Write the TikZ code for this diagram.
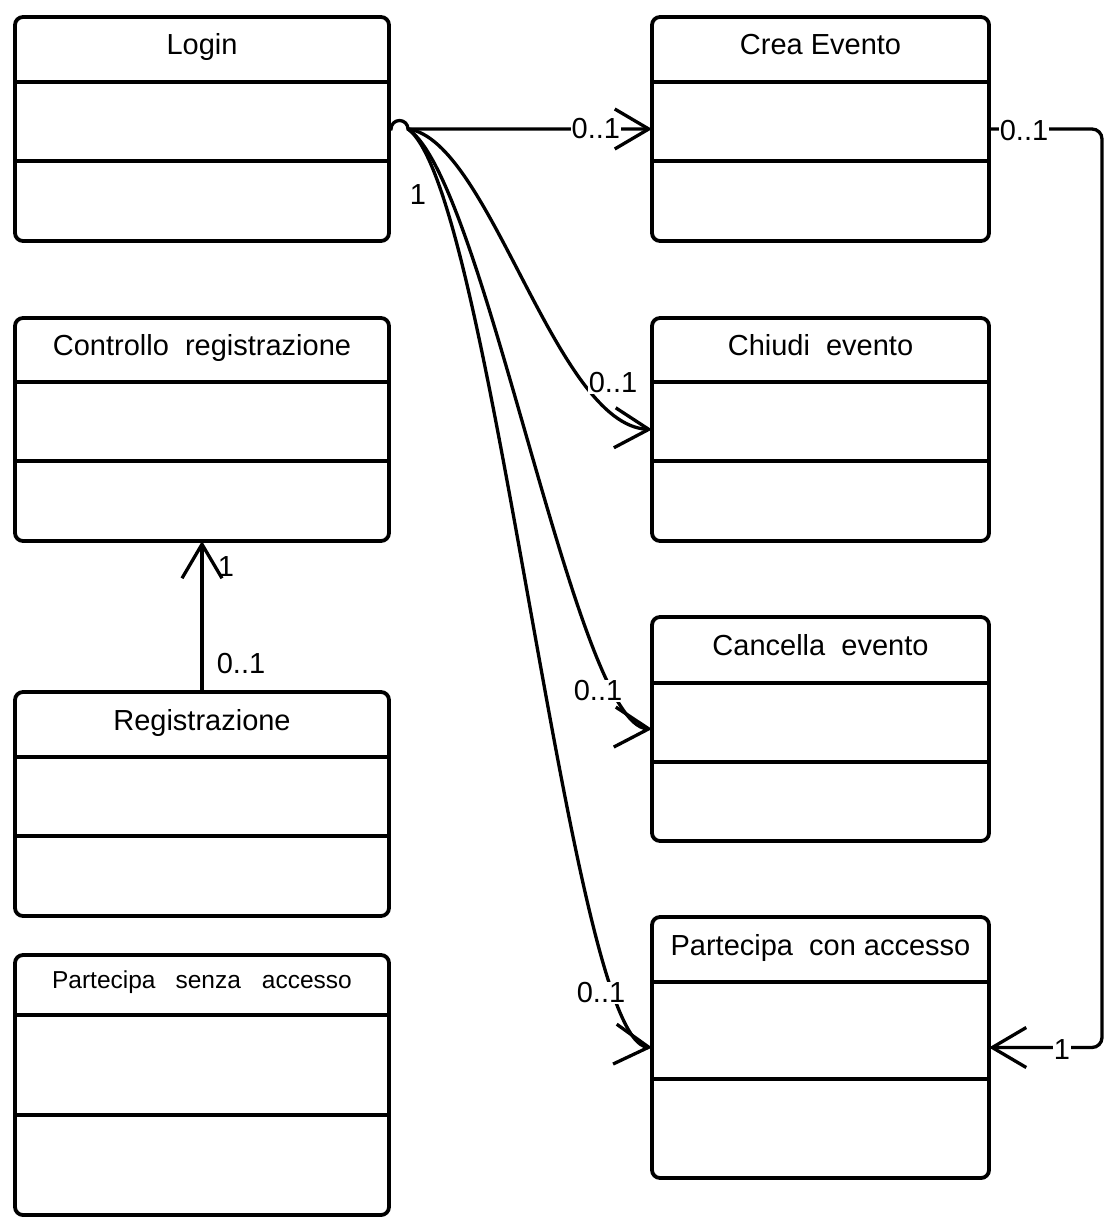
\documentclass[tikz,border=0pt]{standalone}
\usepackage{fontspec}
\setmainfont{Liberation Sans}
\usetikzlibrary{arrows.meta}
\tikzset{
  classbox/.style={draw, line width=3.8pt, rounded corners=8pt, inner sep=0pt,
    outer sep=0pt, anchor=north west},
  classname/.style={anchor=base, inner sep=0pt, font=\fontsize{29}{34}\selectfont},
  divider/.style={line width=3.8pt},
  assoc/.style={line width=3.3pt, -{Straight Barb[length=34pt,width=40pt]}},
  mult/.style={inner sep=1pt, font=\fontsize{29}{34}\selectfont},
}
% two compartment lines of a class box
\newcommand{\classlines}[3]{%
  \draw[divider] ([yshift=-#2pt]#1.north west) -- ([yshift=-#2pt]#1.north east)
    ([yshift=-#3pt]#1.north west) -- ([yshift=-#3pt]#1.north east);}
\begin{document}
\begin{tikzpicture}[x=1pt,y=-1pt]
  \useasboundingbox (0,0) rectangle (1104,1217);
  % left column
  \node[classbox, minimum width=374pt, minimum height=224pt] (login) at (15,17) {};
  \node[classname] at ([yshift=-38pt]login.north) {Login};
  \classlines{login}{65}{144}
  \node[classbox, minimum width=374pt, minimum height=223pt] (ctrl) at (15,318) {};
  \node[classname] at ([yshift=-37pt]ctrl.north) {Controllo\ \ registrazione};
  \classlines{ctrl}{64}{143}
  \node[classbox, minimum width=374pt, minimum height=224pt] (reg) at (15,692) {};
  \node[classname] at ([yshift=-38pt]reg.north) {Registrazione};
  \classlines{reg}{65}{144}
  \node[classbox, minimum width=374pt, minimum height=260pt] (parsenza) at (15,955) {};
  \node[classname, font=\fontsize{24.5}{29}\selectfont] at ([yshift=-33pt]parsenza.north)
    {Partecipa\hspace{20pt}senza\hspace{21pt}accesso};
  \classlines{parsenza}{60}{160}
  % right column
  \node[classbox, minimum width=337pt, minimum height=224pt] (crea) at (652,17) {};
  \node[classname] at ([yshift=-38pt]crea.north) {Crea Evento};
  \classlines{crea}{65}{144}
  \node[classbox, minimum width=337pt, minimum height=223pt] (chiudi) at (652,318) {};
  \node[classname] at ([yshift=-37pt]chiudi.north) {Chiudi\ \ evento};
  \classlines{chiudi}{64}{143}
  \node[classbox, minimum width=337pt, minimum height=224pt] (cancella) at (652,617) {};
  \node[classname] at ([yshift=-38pt]cancella.north) {Cancella\ \ evento};
  \classlines{cancella}{66}{145}
  \node[classbox, minimum width=337pt, minimum height=261pt] (parcon) at (652,917) {};
  \node[classname] at ([yshift=-38pt]parcon.north) {Partecipa\ \ con accesso};
  \classlines{parcon}{65}{162}
  % associations
  \draw[assoc] (login.east) -- ++(2,0) arc[start angle=180, end angle=360, radius=8.5]
    coordinate (hop) -- node[mult, fill=white, pos=0.77] {0..1} (crea.west);
  \draw[assoc] (hop) .. controls (490,140) and (555,425) .. (chiudi.west);
  \draw[assoc] (hop) .. controls (485,180) and (575,725) .. (cancella.west);
  \draw[assoc] (hop) .. controls (492,190) and (570,1040) .. (parcon.west);
  \node[mult] at (418,195) {1};
  \node[mult, fill=white] at (613,383) {0..1};
  \node[mult, fill=white] at (598,691) {0..1};
  \node[mult, fill=white] at (601,993) {0..1};
  \draw[assoc, rounded corners=10pt] (crea.east) -- ++(113,0) |- (parcon.east);
  \node[mult, fill=white] at (1024,131) {0..1};
  \node[mult, fill=white] at (1062,1050) {1};
  \draw[assoc] (reg.north) -- (ctrl.south);
  \node[mult] at (226,567) {1};
  \node[mult] at (241,664) {0..1};
\end{tikzpicture}
\end{document}
